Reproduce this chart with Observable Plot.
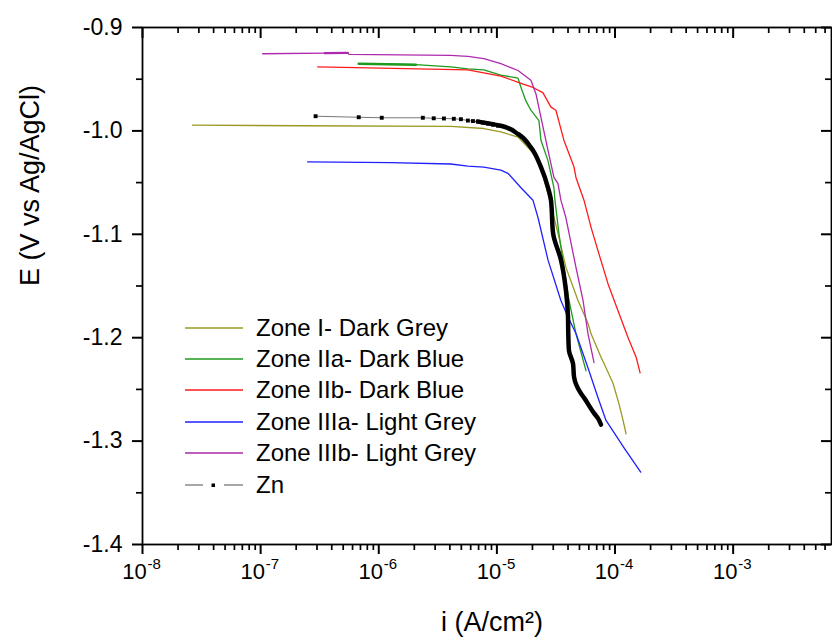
<!DOCTYPE html>
<html>
<head>
<meta charset="utf-8">
<script src="https://cdn.jsdelivr.net/npm/d3@7"></script>
<script src="https://cdn.jsdelivr.net/npm/@observablehq/plot@0.6"></script>
<style>
  html, body { margin: 0; padding: 0; background: #fff; }
  #wrap { position: relative; width: 832px; height: 643px; font-family: "Liberation Sans", Arial, sans-serif; }
  #legend { position: absolute; left: 185px; top: 312px; font-size: 24px; color: #000; }
  .row { display: flex; align-items: center; height: 31.4px; }
  .row svg { width: 58px; height: 10px; margin-right: 13px; overflow: visible; }
</style>
</head>
<body>
<div id="wrap"></div>
<script>
// ---- Data (i in A/cm², E in V vs Ag/AgCl) ----
const zoneI_i = [2.65e-8, 2.18e-7, 4.07e-6, 7.76e-6, 1.08e-5, 1.51e-5, 1.94e-5, 2.27e-5, 2.71e-5, 3.29e-5, 3.84e-5, 4.86e-5, 5.90e-5, 6.26e-5, 7.61e-5, 8.07e-5, 9.62e-5, 1.08e-4, 1.17e-4, 1.24e-4];
const zoneI_E = [-0.9945, -0.9950, -0.9957, -0.9977, -1.001, -1.006, -1.019, -1.029, -1.061, -1.099, -1.132, -1.164, -1.186, -1.196, -1.219, -1.225, -1.244, -1.264, -1.280, -1.293];

const zoneIIa_i = [6.77e-7, 2.06e-6, 4.07e-6, 5.68e-6, 7.76e-6, 1.08e-5, 1.51e-5, 1.60e-5, 1.76e-5, 1.94e-5, 2.27e-5, 2.36e-5, 2.71e-5, 3.04e-5, 3.10e-5, 3.35e-5, 3.69e-5, 4.08e-5, 4.67e-5, 5.68e-5];
const zoneIIa_E = [-0.935, -0.936, -0.938, -0.940, -0.941, -0.946, -0.949, -0.958, -0.971, -0.980, -0.990, -1.009, -1.029, -1.055, -1.067, -1.099, -1.132, -1.164, -1.196, -1.232];

const zoneIIb_i = [3.04e-7, 5.68e-6, 1.08e-5, 1.60e-5, 2.02e-5, 2.45e-5, 2.87e-5, 3.16e-5, 3.69e-5, 4.50e-5, 4.67e-5, 5.46e-5, 6.26e-5, 7.18e-5, 8.73e-5, 1.06e-4, 1.29e-4, 1.51e-4, 1.63e-4];
const zoneIIb_E = [-0.938, -0.941, -0.947, -0.954, -0.958, -0.963, -0.977, -0.980, -1.009, -1.035, -1.045, -1.067, -1.093, -1.116, -1.148, -1.174, -1.200, -1.219, -1.234];

const zoneIIIa_i = [2.50e-7, 1.26e-6, 4.07e-6, 5.68e-6, 7.76e-6, 1.08e-5, 1.24e-5, 1.60e-5, 2.02e-5, 2.23e-5, 2.71e-5, 3.48e-5, 4.00e-5, 4.67e-5, 5.90e-5, 7.18e-5, 8.39e-5, 1.20e-4, 1.65e-4];
const zoneIIIa_E = [-1.030, -1.0306, -1.032, -1.034, -1.035, -1.038, -1.041, -1.055, -1.067, -1.084, -1.125, -1.164, -1.180, -1.196, -1.229, -1.258, -1.280, -1.307, -1.330];

const zoneIIIb_i = [1.04e-7, 3.5e-7, 5.46e-7, 5.6e-7, 4.07e-6, 5.68e-6, 7.76e-6, 1.08e-5, 1.51e-5, 1.94e-5, 2.14e-5, 2.36e-5, 2.71e-5, 3.04e-5, 3.29e-5, 3.48e-5, 3.84e-5, 4.67e-5, 5.36e-5, 5.90e-5, 6.64e-5];
const zoneIIIb_E = [-0.9254, -0.9248, -0.9245, -0.926, -0.927, -0.928, -0.930, -0.935, -0.9416, -0.951, -0.964, -0.987, -1.019, -1.045, -1.051, -1.067, -1.084, -1.132, -1.164, -1.196, -1.224];

// Zn: sparse markers (flat part) and the dense part where markers merge into a thick line
const zn_i = [2.92e-7, 6.77e-7, 1.06e-6, 2.36e-6, 2.92e-6, 3.56e-6, 4.32e-6, 4.96e-6, 5.68e-6, 6.27e-6, 6.9e-6, 7.6e-6, 8.4e-6, 9.25e-6, 1.02e-5];
const zn_E = [-0.9858, -0.9868, -0.9873, -0.9873, -0.9878, -0.988, -0.9883, -0.9887, -0.990, -0.9905, -0.991, -0.992, -0.993, -0.994, -0.995];
const znDense_i = [6.9e-6, 7.76e-6, 1.08e-5, 1.51e-5, 1.94e-5, 2.36e-5, 2.71e-5, 2.87e-5, 2.99e-5, 3.49e-5, 3.84e-5, 4.0e-5, 4.02e-5, 4.07e-5, 4.41e-5, 4.5e-5, 5.15e-5, 5.46e-5, 6.64e-5, 7.18e-5, 7.6e-5];
const znDense_E = [-0.991, -0.992, -0.995, -1.003, -1.016, -1.035, -1.055, -1.067, -1.099, -1.125, -1.154, -1.180, -1.196, -1.212, -1.225, -1.238, -1.254, -1.258, -1.273, -1.278, -1.284];

const seriesNames = ["Zone I- Dark Grey", "Zone IIa- Dark Blue", "Zone IIb- Dark Blue", "Zone IIIa- Light Grey", "Zone IIIb- Light Grey", "Zn"];
const seriesColors = ["#9a9a22", "#1e9a1e", "#ff1a1a", "#2020ff", "#ad2aad", "#000000"];

// Axis ticks and labels
const xMajor = [1e-8, 1e-7, 1e-6, 1e-5, 1e-4, 1e-3];
const xExponents = ["-8", "-7", "-6", "-5", "-4", "-3"];
const yMajor = [-1.4, -1.3, -1.2, -1.1, -1.0, -0.9];
const yMinor = [-1.35, -1.25, -1.15, -1.05, -0.95];
const xMax = 6.8e-3;
const xMinor = [];
for (const d of xMajor) for (let k = 2; k <= 9; k++) if (k * d <= xMax) xMinor.push(k * d);

const xLabel = "i (A/cm²)";
const yLabel = "E (V vs Ag/AgCl)";

// ---- Build tables ----
const toRows = (I, E) => I.map((v, j) => ({i: v, E: E[j]}));
const tables = [
  toRows(zoneI_i, zoneI_E), toRows(zoneIIa_i, zoneIIa_E), toRows(zoneIIb_i, zoneIIb_E),
  toRows(zoneIIIa_i, zoneIIIa_E), toRows(zoneIIIb_i, zoneIIIb_E)
];
const znRows = toRows(zn_i, zn_E);
const znDenseRows = toRows(znDense_i, znDense_E);

const W = 832, H = 643, mL = 142, mR = 1, mT = 27, mB = 99;
const pw = W - mL - mR, ph = H - mT - mB;
const font = "Liberation Sans, Arial, sans-serif";
const tk = {stroke: "#000", strokeWidth: 2};
const tkm = {stroke: "#000", strokeWidth: 1.7};

const chart = Plot.plot({
  width: W, height: H,
  marginLeft: mL, marginRight: mR, marginTop: mT, marginBottom: mB,
  style: {fontFamily: font, background: "transparent", overflow: "visible", color: "#000"},
  x: {type: "log", domain: [1e-8, xMax], axis: null},
  y: {domain: [-1.4, -0.9], axis: null},
  marks: [
    // curves
    ...tables.map((t, k) => Plot.line(t, {x: "i", y: "E", stroke: seriesColors[k], strokeWidth: 1.3})),
    // noisier (thicker-looking) starting stretches of IIa and IIIb
    Plot.line(tables[1].slice(0, 2), {x: "i", y: "E", stroke: seriesColors[1], strokeWidth: 2.6}),
    Plot.line(tables[4].slice(1, 3), {x: "i", y: "E", stroke: seriesColors[4], strokeWidth: 2.4}),
    Plot.line(znRows, {x: "i", y: "E", stroke: "#777", strokeWidth: 1}),
    Plot.dot(znRows, {x: "i", y: "E", symbol: "square", r: 2.2, fill: "#000", stroke: null}),
    Plot.line(znDenseRows, {x: "i", y: "E", stroke: "#000", strokeWidth: 4.5, strokeLinejoin: "round", strokeLinecap: "round", curve: "monotone-y"}),
    // frame
    Plot.frame({stroke: "#000", strokeWidth: 1.8}),
    // bottom ticks (outward)
    Plot.ruleX(xMajor, {x: d => d, insetTop: ph, insetBottom: -10, ...tk}),
    Plot.ruleX(xMinor, {x: d => d, insetTop: ph, insetBottom: -6, ...tkm}),
    // top ticks (inward)
    Plot.ruleX(xMajor, {x: d => d, insetTop: 0, insetBottom: ph - 11, ...tk}),
    Plot.ruleX(xMinor, {x: d => d, insetTop: 0, insetBottom: ph - 6, ...tkm}),
    // left ticks (outward)
    Plot.ruleY(yMajor, {y: d => d, insetLeft: -10, insetRight: pw, ...tk}),
    Plot.ruleY(yMinor, {y: d => d, insetLeft: -6, insetRight: pw, ...tkm}),
    // right ticks (inward)
    Plot.ruleY(yMajor, {y: d => d, insetLeft: pw - 10, insetRight: 0, ...tk}),
    Plot.ruleY(yMinor, {y: d => d, insetLeft: pw - 6, insetRight: 0, ...tkm}),
    // y tick labels
    Plot.text(yMajor, {y: d => d, frameAnchor: "left", dx: -20, textAnchor: "end", text: d => d.toFixed(1), fontSize: 23, fill: "#000"}),
    // x tick labels: 10 with superscript exponent
    Plot.text(xMajor, {x: d => d, frameAnchor: "bottom", dy: 34, dx: -8, textAnchor: "middle", text: () => "10", fontSize: 22, fill: "#000"}),
    Plot.text(xMajor, {x: d => d, frameAnchor: "bottom", dy: 24, dx: 5, textAnchor: "start", text: (d, j) => xExponents[j], fontSize: 15, fill: "#000"}),
    // axis titles
    Plot.text([yLabel], {frameAnchor: "left", dx: -112, rotate: -90, text: d => d, fontSize: 27, fill: "#000"}),
    Plot.text([xLabel], {frameAnchor: "bottom", dy: 86, dx: 5, text: d => d, fontSize: 27, fill: "#000"})
  ]
});

const wrap = document.getElementById("wrap");
wrap.appendChild(chart);

// legend
const legend = document.createElement("div");
legend.id = "legend";
seriesNames.forEach((name, k) => {
  const row = document.createElement("div");
  row.className = "row";
  let sw;
  if (name === "Zn") {
    sw = `<svg viewBox="0 0 58 10"><line x1="0" y1="5" x2="18" y2="5" stroke="#777" stroke-width="1.3"/><rect x="26.5" y="3.5" width="3.5" height="3.5" fill="#000"/><line x1="39" y1="5" x2="58" y2="5" stroke="#777" stroke-width="1.3"/></svg>`;
  } else {
    sw = `<svg viewBox="0 0 58 10"><line x1="0" y1="5" x2="58" y2="5" stroke="${seriesColors[k]}" stroke-width="1.4"/></svg>`;
  }
  row.innerHTML = sw + `<span>${name}</span>`;
  legend.appendChild(row);
});
wrap.appendChild(legend);
</script>
</body>
</html>
